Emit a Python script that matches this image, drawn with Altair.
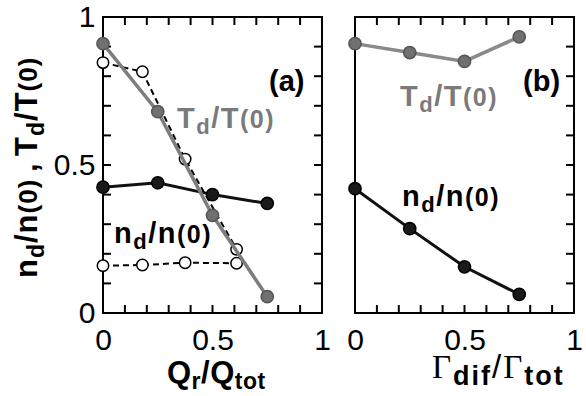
import altair as alt
import pandas as pd

# ---------------- data ----------------
# panel (a): versus Q_r/Q_tot
a_x = [0.0, 0.25, 0.5, 0.75]
a_T = [0.91, 0.68, 0.33, 0.055]          # grey filled, solid
a_n = [0.425, 0.44, 0.40, 0.37]          # black filled, solid
a_open_x = [0.0, 0.18, 0.375, 0.61]
a_open_T = [0.846, 0.815, 0.52, 0.215]   # open circles, dashed
a_open_n = [0.16, 0.162, 0.17, 0.168]    # open circles, dashed
# panel (b): versus Gamma_dif/Gamma_tot
b_x = [0.0, 0.25, 0.5, 0.75]
b_T = [0.91, 0.88, 0.85, 0.933]
b_n = [0.42, 0.285, 0.156, 0.063]

tick_values = [0, 0.5, 1]
minor_values = [0.1, 0.2, 0.3, 0.4, 0.5, 0.6, 0.7, 0.8, 0.9]

W, H = 219, 296
SANS = "Liberation Sans"
SERIF = "Liberation Serif"
GREY_TXT = "#7a7a7a"

xs = alt.Scale(domain=[0, 1], nice=False, zero=False)
ys = alt.Scale(domain=[0, 1], nice=False, zero=False)

x_axis = alt.Axis(values=tick_values, format="~g", title=None, ticks=False, domain=False,
                  grid=False, labelFontSize=30, labelFont=SANS, labelColor="black",
                  labelPadding=12, labelFlush=False, labelOverlap=False)
y_axis = alt.Axis(values=tick_values, format="~g", title=None, ticks=False, domain=False,
                  grid=False, labelFontSize=30, labelFont=SANS, labelColor="black",
                  labelPadding=8, labelFlush=False, labelOverlap=False)

BOLD_W = {'n': .611, 'd': .611, '/': .278, '(': .333, '0': .556, ')': .333, ',': .278,
          ' ': .278, 'T': .611, 'Q': .778, 'r': .389, 't': .333, 'o': .611, 'i': .278,
          'f': .333, 'a': .556, 'b': .611}
REG_W = {'/': .278, ' ': .278}
SERIF_W = {'Γ': .578}

one = pd.DataFrame({"k": [0]})


def label(pieces, px, py, angle=0, track=0.0):
    """pieces: (text, size, dy, weight, family, color)"""
    layers = []
    pos = 0.0
    for txt, size, dy, weight, fam, color in pieces:
        table = SERIF_W if fam == SERIF else (BOLD_W if weight == "bold" else REG_W)
        for ch in txt:
            if ch != " ":
                layers.append(
                    alt.Chart(one).mark_text(
                        text=ch, align="left", baseline="alphabetic", dx=round(pos, 2), dy=dy,
                        angle=angle, fontSize=size, fontWeight=weight, font=fam, color=color
                    ).encode(x=alt.value(px), y=alt.value(py))
                )
            pos += table.get(ch, .6) * size + track
    return layers


def ratio(top, bottom, color, S=29, s=22, p=25, dy=6):
    return [(top, S, 0, "bold", SANS, color), ("d", s, dy, "bold", SANS, color),
            ("/" + bottom, S, 0, "bold", SANS, color), ("(0)", p, 0, "bold", SANS, color)]


def series(xv, yv, line_color, width, dash, pt_fill, pt_stroke, pt_size, y_ax):
    df = pd.DataFrame({"x": xv, "y": yv})
    X = alt.X("x:Q", scale=xs, axis=x_axis)
    Y = alt.Y("y:Q", scale=ys, axis=y_ax)
    line_kw = dict(color=line_color, strokeWidth=width)
    if dash:
        line_kw["strokeDash"] = dash
    line = alt.Chart(df).mark_line(**line_kw).encode(x=X, y=Y)
    pts = alt.Chart(df).mark_point(shape="circle", filled=True, fill=pt_fill, stroke=pt_stroke,
                                   strokeWidth=1.5, size=pt_size, opacity=1).encode(x=X, y=Y)
    return [line, pts]


def ticks(sides, y_ax):
    tdf = pd.DataFrame({"v": minor_values})
    out = []
    X = alt.X("v:Q", scale=xs, axis=x_axis)
    Y = alt.Y("v:Q", scale=ys, axis=y_ax)
    if "top" in sides:
        out.append(alt.Chart(tdf).mark_rule(color="black", strokeWidth=2).encode(
            x=X, y=alt.value(0), y2=alt.value(8)))
    if "bottom" in sides:
        out.append(alt.Chart(tdf).mark_rule(color="black", strokeWidth=2).encode(
            x=X, y=alt.value(H), y2=alt.value(H - 8)))
    if "left" in sides:
        out.append(alt.Chart(tdf).mark_rule(color="black", strokeWidth=2).encode(
            y=Y, x=alt.value(0), x2=alt.value(8)))
    if "right" in sides:
        out.append(alt.Chart(tdf).mark_rule(color="black", strokeWidth=2).encode(
            y=Y, x=alt.value(W), x2=alt.value(W - 8)))
    return out


# ---------------- panel (a) ----------------
layers_a = []
layers_a += ticks(["top", "bottom", "left", "right"], y_axis)
layers_a += series(a_open_x, a_open_n, "black", 2, [6, 4], "white", "black", 130, y_axis)
layers_a += series(a_open_x, a_open_T, "black", 2, [6, 4], "white", "black", 130, y_axis)
layers_a += series(a_x, a_n, "#111111", 3, None, "#1a1a1a", "#000000", 150, y_axis)
layers_a += series(a_x, a_T, "#7d7d7d", 3.5, None, "#707070", "#555555", 150, y_axis)
layers_a += label(ratio("T", "T", GREY_TXT), 74, 111, track=1.5)
layers_a += label(ratio("n", "n", "black"), 11, 226, track=1.5)
layers_a += label([("(a)", 29, 0, "bold", SANS, "black")], 166, 74)
# x title  Q_r / Q_tot
layers_a += label([("Q", 31, 0, "bold", SANS, "black"), ("r", 23, 6, "bold", SANS, "black"),
                   ("/Q", 31, 0, "bold", SANS, "black"), ("tot", 23, 6, "bold", SANS, "black")],
                  64, 366, track=0.5)
# y title  n_d/n(0) , T_d/T(0)
ytitle = [("n", 31, 0, "bold", SANS, "black"), ("d", 23, 7, "bold", SANS, "black"),
          ("/n", 31, 0, "bold", SANS, "black"), ("(0)", 26, 0, "bold", SANS, "black"),
          (" ", 20, 0, "bold", SANS, "black"), (",", 31, 0, "bold", SANS, "black"),
          (" ", 20, 0, "bold", SANS, "black"),
          ("T", 31, 0, "bold", SANS, "black"), ("d", 23, 7, "bold", SANS, "black"),
          ("/T", 31, 0, "bold", SANS, "black"), ("(0)", 26, 0, "bold", SANS, "black")]
layers_a += label(ytitle, -66, 261, angle=270, track=1.0)

panel_a = alt.layer(*layers_a).properties(width=W, height=H)

# ---------------- panel (b) ----------------
layers_b = []
layers_b += ticks(["top", "bottom", "right"], None)
layers_b += series(b_x, b_n, "#111111", 3, None, "#1a1a1a", "#000000", 150, None)
layers_b += series(b_x, b_T, "#8a8a8a", 3.5, None, "#707070", "#555555", 150, None)
layers_b += label(ratio("T", "T", GREY_TXT), 45, 89, track=1.5)
layers_b += label(ratio("n", "n", "black"), 47, 189, track=1.5)
layers_b += label([("(b)", 29, 0, "bold", SANS, "black")], 168, 74)
layers_b += label([("Γ", 33, 0, "normal", SERIF, "black"), ("dif", 27, 7, "bold", SANS, "black"),
                   ("/", 33, 0, "normal", SANS, "black"), ("Γ", 33, 0, "normal", SERIF, "black"),
                   ("tot", 27, 7, "bold", SANS, "black")],
                  77, 361, track=2)

panel_b = alt.layer(*layers_b).properties(width=W, height=H)

chart = alt.hconcat(panel_a, panel_b, spacing=33, bounds="flush").properties(
    padding={"left": 10, "top": 1, "right": 0, "bottom": 0},
    background="white",
).configure_view(stroke="black", strokeWidth=2)

chart.save("out.html", embed_options={"renderer": "svg", "actions": False})
